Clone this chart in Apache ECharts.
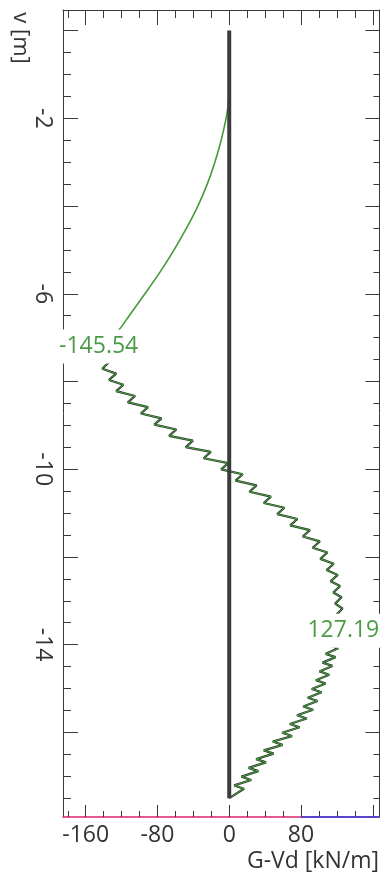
<!DOCTYPE html>
<html>
<head>
<meta charset="utf-8">
<script src="https://cdn.jsdelivr.net/npm/echarts@6/dist/echarts.min.js"></script>
<style>
  html, body { margin: 0; padding: 0; background: #fff; }
  #chart { width: 381px; height: 875px; }
</style>
</head>
<body>
<div id="chart"></div>
<script>
// Shear force G-Vd [kN/m] along the wall, level v [m] (negative downwards)

// Wall line
const wallLevel = [0, -17.5];
const wallShear = [0, 0];

// Smooth part above the excavation level
const curveLevel = [-1.35, -1.7, -2.0, -2.5, -3.0, -3.5, -4.0, -4.5, -5.0, -5.5, -6.0, -6.5, -6.8, -7.0, -7.2];
const curveShear = [0, -1.2, -3.5, -9, -16, -24.5, -35, -47.5, -61.5, -77, -94, -111.5, -122, -131.5, -145.54];

// Saw-tooth part from the minimum down to the maximum
const sawUpperLevel = [
  -7.200, -7.310, -7.455, -7.565, -7.710, -7.820, -7.965, -8.075, -8.220, -8.330,
  -8.475, -8.585, -8.730, -8.840, -8.985, -9.095, -9.240, -9.350, -9.495, -9.605,
  -9.750, -9.860, -10.005, -10.115, -10.260, -10.370, -10.515, -10.625, -10.770, -10.880,
  -11.025, -11.135, -11.280, -11.390, -11.535, -11.645, -11.790, -11.900, -12.045, -12.155,
  -12.300, -12.410, -12.555, -12.665, -12.810, -12.920, -13.065, -13.175, -13.320, -13.430,
  -13.575, -13.685
];
const sawUpperShear = [
  -145.54, -139.2, -144.2, -134.5, -141.5, -126, -134, -118, -126, -105,
  -113, -90.5, -98.5, -75.5, -83.5, -59, -67, -40.5, -48.5, -20.5,
  -28.5, -1, -9, 15, 7, 30.5, 22.5, 46.5, 38.5, 61.5,
  53.5, 76, 68, 90, 82, 101, 93, 109.5, 101.5, 116.5,
  108.5, 121, 113, 123.5, 116, 125.2, 118, 126.3, 119.5, 126.6,
  120.5, 127.19
];

// Saw-tooth part from the maximum down to the wall foot
const sawLowerLevel = [
  -13.810, -13.885, -14.010, -14.085, -14.210, -14.285, -14.410, -14.485, -14.610, -14.685,
  -14.810, -14.885, -15.010, -15.085, -15.210, -15.285, -15.410, -15.485, -15.610, -15.685,
  -15.810, -15.885, -16.010, -16.085, -16.210, -16.285, -16.410, -16.485, -16.610, -16.685,
  -16.810, -16.885, -17.010, -17.085, -17.210, -17.285, -17.500
];
const sawLowerShear = [
  114.5, 125, 110.5, 121.5, 107.5, 118.5, 104, 115, 100.5, 111.5,
  96.5, 107.5, 92, 103, 87.5, 98.5, 82.5, 93.5, 75.5, 86.5,
  67.5, 78.5, 59, 70, 48.5, 59.5, 38.5, 49.5, 30, 41,
  21.5, 32.5, 13.5, 24.5, 5.5, 16.5, 0
];

// Coloured base line along the bottom edge
const baseBlueShear = [80, 167.5];

// Axis ticks and labels
const xMajorTicks = [-160, -80, 0, 80, 160];
const xMinorTicks = [-180, -140, -120, -100, -60, -40, -20, 20, 40, 60, 100, 120, 140];
const xLabelValues = [-160, -80, 0, 80];
const yLabelValues = [-2, -6, -10, -14];

const X_MIN = -185.3, X_MAX = 167.5;
const Y_MIN = -17.93, Y_MAX = 0.47;

const yMajorTicks = [];
const yMinorTicks = [];
for (let i = 0; i <= 35; i++) {
  const v = -i * 0.5;
  if (i % 4 === 0) yMajorTicks.push(v); else yMinorTicks.push(v);
}

const pairs = (xs, ys) => xs.map((x, i) => [x, ys[i]]);
const sawData = pairs(sawUpperShear, sawUpperLevel).concat(pairs(sawLowerShear, sawLowerLevel));

const FONT = '"Open Sans", "DejaVu Sans", sans-serif';
const TEXT = '#333';
const TICK = '#3a3a3a';

function xAxisCfg(position, ticks, length, extra) {
  return Object.assign({
    type: 'value', position, min: X_MIN, max: X_MAX,
    axisLine: { show: false, onZero: false },
    axisTick: { show: true, inside: true, length, customValues: ticks, lineStyle: { color: TICK, width: 1 } },
    axisLabel: { show: false },
    splitLine: { show: false }
  }, extra || {});
}
function yAxisCfg(position, ticks, length, extra) {
  return Object.assign({
    type: 'value', position, min: Y_MIN, max: Y_MAX,
    axisLine: { show: false, onZero: false },
    axisTick: { show: true, inside: true, length, customValues: ticks, lineStyle: { color: TICK, width: 1 } },
    axisLabel: { show: false },
    splitLine: { show: false }
  }, extra || {});
}

const option = {
  animation: false,
  backgroundColor: '#fff',
  grid: { left: 63, right: 1.5, top: 10, bottom: 58, containLabel: false, outerBoundsMode: 'none' },
  xAxis: [
    xAxisCfg('bottom', xMajorTicks, 12, {
      axisLine: { show: true, onZero: false, lineStyle: { color: '#e0236e', width: 1.5 } },
      axisLabel: { show: true, customValues: xLabelValues, color: TEXT, fontSize: 23, fontFamily: FONT, margin: 7 }
    }),
    xAxisCfg('bottom', xMinorTicks, 6),
    xAxisCfg('top', xMajorTicks, 15, {
      axisLine: { show: true, onZero: false, lineStyle: { color: TICK, width: 1 } }
    }),
    xAxisCfg('top', xMinorTicks, 8)
  ],
  yAxis: [
    yAxisCfg('left', yMajorTicks, 15, {
      axisLine: { show: true, onZero: false, lineStyle: { color: TICK, width: 1 } },
      axisLabel: { show: true, customValues: yLabelValues, rotate: -90, color: TEXT, fontSize: 23, fontFamily: FONT, margin: 9 }
    }),
    yAxisCfg('left', yMinorTicks, 8),
    yAxisCfg('right', yMajorTicks, 14, {
      axisLine: { show: true, onZero: false, lineStyle: { color: TICK, width: 1 } }
    }),
    yAxisCfg('right', yMinorTicks, 6)
  ],
  graphic: [
    {
      type: 'text', x: 20, y: 38, rotation: -Math.PI / 2,
      style: { text: 'v [m]', fill: TEXT, font: '22px ' + FONT, align: 'center', verticalAlign: 'middle' }
    },
    {
      type: 'text', right: 2, top: 850,
      style: { text: 'G-Vd [kN/m]', fill: TEXT, font: '23px ' + FONT }
    }
  ],
  series: [
    {
      name: 'base', type: 'line', silent: true, clip: false, symbol: 'none',
      data: baseBlueShear.map(x => [x, Y_MIN]),
      lineStyle: { color: '#2b3fe0', width: 1.5 }
    },
    {
      name: 'G-Vd', type: 'line', smooth: 0.3, symbol: 'none',
      data: pairs(curveShear, curveLevel),
      lineStyle: { color: '#459a38', width: 1.6 }
    },
    {
      name: 'G-Vd saw outline', type: 'line', symbol: 'none', silent: true,
      data: sawData,
      lineStyle: { color: '#263626', width: 2.2 }
    },
    {
      name: 'G-Vd saw', type: 'line', symbol: 'none',
      data: sawData,
      lineStyle: { color: '#4fae45', width: 0.9 },
      markPoint: {
        symbol: 'rect', symbolSize: [80, 34], silent: true,
        itemStyle: { color: '#fff' },
        label: {
          show: true, position: 'inside', color: '#4b9a44', fontSize: 23, fontFamily: FONT,
          formatter: p => Number(p.value).toFixed(2)
        },
        data: [{ type: 'min', valueIndex: 0 }, { type: 'max', valueIndex: 0 }]
      }
    },
    {
      name: 'wall', type: 'line', symbol: 'none',
      data: pairs(wallShear, wallLevel),
      lineStyle: { color: '#3c3c3c', width: 4 }
    }
  ]
};

const chart = echarts.init(document.getElementById('chart'), null, { renderer: 'canvas' });
chart.setOption(option);
</script>
</body>
</html>
